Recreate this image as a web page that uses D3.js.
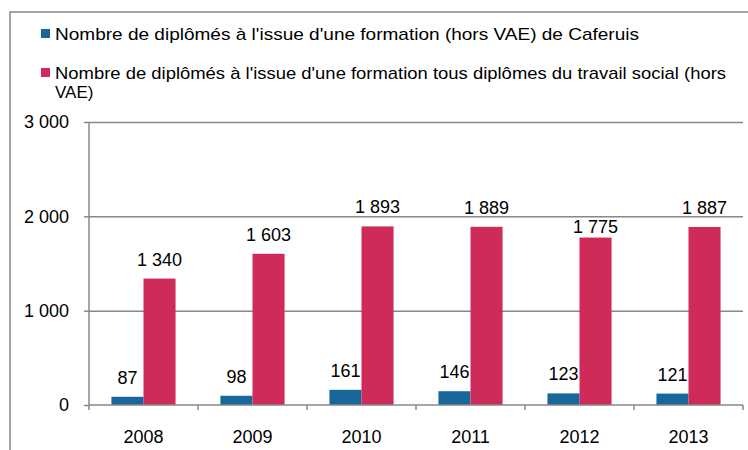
<!DOCTYPE html>
<html>
<head>
<meta charset="utf-8">
<script src="https://cdn.jsdelivr.net/npm/d3@7"></script>
<style>
  body { margin: 0; background: #fff; }
  svg { display: block; font-family: "Liberation Sans", Arial, sans-serif; }
</style>
</head>
<body>
<script>
// data
var years = ["2008", "2009", "2010", "2011", "2012", "2013"];
var caferuis = [87, 98, 161, 146, 123, 121];
var tousDiplomes = [1340, 1603, 1893, 1889, 1775, 1887];
var seriesNames = [
  "Nombre de diplômés à l'issue d'une formation (hors VAE) de Caferuis",
  "Nombre de diplômés à l'issue d'une formation tous diplômes du travail social (hors VAE)"
];
var yTicks = [0, 1000, 2000, 3000];

var w = 748, h = 450;
var colors = ["#17679a", "#cf2b5a"];
var axisColor = "#888";

var fr = d3.formatLocale({ decimal: ",", thousands: "\u00a0", grouping: [3], currency: ["", ""] });
var fmt = fr.format(",");

var svg = d3.select("body").append("svg")
  .attr("width", w)
  .attr("height", h);

// outer frame (only top and left edges visible)
svg.append("path")
  .attr("d", "M10," + h + "V12H" + w)
  .attr("fill", "none")
  .attr("stroke", axisColor)
  .attr("stroke-width", 1.5);

// legend
var legendLines = [
  { s: 0, text: seriesNames[0], y: 40, len: 584, sq: true },
  { s: 1, text: "Nombre de diplômés à l'issue d'une formation tous diplômes du travail social (hors", y: 79, len: 671, sq: true },
  { s: 1, text: "VAE)", y: 98, len: null, sq: false }
];
legendLines.forEach(function(l) {
  if (l.sq) {
    svg.append("rect")
      .attr("x", 41).attr("y", l.y - 11)
      .attr("width", 9).attr("height", 9)
      .attr("fill", colors[l.s]);
  }
  var t = svg.append("text")
    .attr("x", 55).attr("y", l.y)
    .attr("font-size", 17)
    .attr("fill", "#000")
    .text(l.text);
  if (l.len) t.attr("textLength", l.len).attr("lengthAdjust", "spacingAndGlyphs");
});

// scales
var x0 = d3.scaleBand().domain(years).range([89, 743]);
var x1 = d3.scaleBand().domain([0, 1]).range([0, x0.bandwidth()]).paddingOuter(0.7);
var y = d3.scaleLinear().domain([0, 3000]).range([405, 122]);

// gridlines
svg.append("g")
  .attr("transform", "translate(89,0)")
  .call(d3.axisLeft(y).tickValues(yTicks.slice(1)).tickSize(-(743 - 89)).tickFormat(""))
  .call(function(g) {
    g.select(".domain").remove();
    g.selectAll("line").attr("stroke", axisColor).attr("stroke-width", 1.5);
  });

// bars
var rows = years.map(function(yr, i) { return { year: yr, vals: [caferuis[i], tousDiplomes[i]] }; });
var groups = svg.selectAll("g.year")
  .data(rows)
  .enter().append("g")
  .attr("class", "year")
  .attr("transform", function(d) { return "translate(" + x0(d.year) + ",0)"; });

groups.selectAll("rect")
  .data(function(d) { return d.vals.map(function(v, s) { return { v: v, s: s, year: d.year }; }); })
  .enter().append("rect")
  .attr("x", function(d) { return x1(d.s); })
  .attr("width", x1.bandwidth())
  .attr("y", function(d) { return y(d.v); })
  .attr("height", function(d) { return y(0) - y(d.v); })
  .attr("fill", function(d) { return colors[d.s]; });

// value labels
groups.selectAll("text.val")
  .data(function(d) { return d.vals.map(function(v, s) { return { v: v, s: s, year: d.year }; }); })
  .enter().append("text")
  .attr("class", "val")
  .attr("x", function(d) { return x1(d.s) + x1.bandwidth() / 2; })
  .attr("y", function(d) {
    var off = 13;
    if (d.year == "2012" && d.s == 1) off = 5;
    return y(d.v) - off;
  })
  .attr("text-anchor", "middle")
  .attr("font-size", 18)
  .attr("fill", "#000")
  .text(function(d) { return fmt(d.v); });

// y axis
svg.append("g")
  .attr("transform", "translate(89,0)")
  .call(d3.axisLeft(y).tickValues(yTicks).tickSize(5).tickPadding(15).tickFormat(fmt))
  .call(function(g) {
    g.select(".domain").attr("stroke", axisColor).attr("stroke-width", 1.5).attr("d", "M0,122V405");
    g.selectAll("line").attr("stroke", axisColor).attr("stroke-width", 1.5);
    g.selectAll("text").attr("font-size", 18).attr("font-family", null).attr("fill", "#000");
  });

// x axis
var xg = svg.append("g")
  .attr("transform", "translate(0," + y(0) + ")")
  .call(d3.axisBottom(x0).tickSize(0).tickPadding(25))
  .call(function(g) {
    g.select(".domain").attr("stroke", axisColor).attr("stroke-width", 1.5).attr("d", "M89,0H743");
    g.selectAll("text").attr("font-size", 18).attr("font-family", null).attr("fill", "#000");
  });

// tick marks between categories
xg.selectAll("line.sep")
  .data(years.concat(["end"]))
  .enter().append("line")
  .attr("class", "sep")
  .attr("x1", function(d, i) { return i < years.length ? x0(d) : x0.range()[1]; })
  .attr("x2", function(d, i) { return i < years.length ? x0(d) : x0.range()[1]; })
  .attr("y1", 0).attr("y2", 5)
  .attr("stroke", axisColor)
  .attr("stroke-width", 1.5);
</script>
</body>
</html>
